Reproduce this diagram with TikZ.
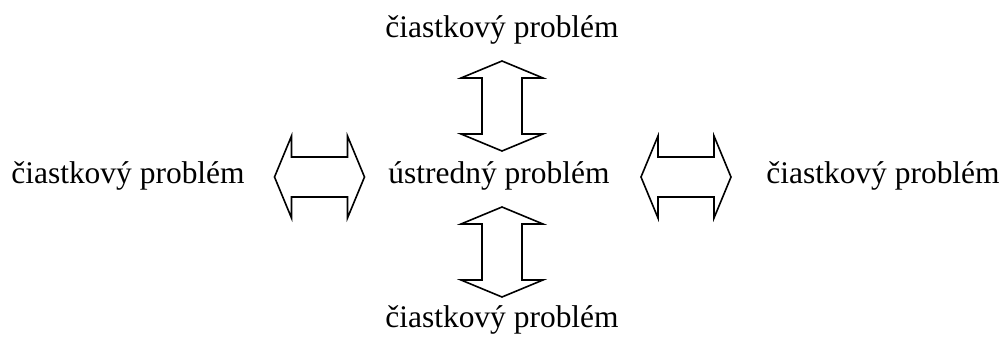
\documentclass[tikz,border=0pt]{standalone}
\usepackage{fontspec}
\setmainfont{Liberation Serif}
\tikzset{problem/.style = {anchor=base, inner sep=0pt, font=\fontsize{23.6}{28}\selectfont}}
\tikzset{dvojsip/.style = {draw=black, line width=1.2pt, line join=miter, fill=white}}

\begin{document}
\begin{tikzpicture}[x=0.75pt,y=-0.75pt]
	\useasboundingbox (0,0) rectangle (1004,336);
	\node (US) [problem] at (499,183) {ústredný problém};
	\node (CH) [problem] at (502,37) {čiastkový problém};
	\node (CD) [problem] at (502,327) {čiastkový problém};
	\node (CL) [problem] at (128,183) {čiastkový problém};
	\node (CP) [problem] at (883,183) {čiastkový problém};
	
	\coordinate (SH) at (502,106);
	\coordinate (SD) at (502,252);
	\coordinate (SL) at (319.5,177);
	\coordinate (SP) at (686,177);
	% obojsmerne sipky
	\foreach \c/\r in {SH/0,SD/0,SL/90,SP/90}
		\draw [dvojsip, shift={(\c)}, rotate=\r] (0,-45) -- (41,-28) -- (20,-28) -- (20,28) -- (41,28) -- (0,45) -- (-41,28) -- (-20,28) -- (-20,-28) -- (-41,-28) -- cycle;
\end{tikzpicture}
\end{document}
